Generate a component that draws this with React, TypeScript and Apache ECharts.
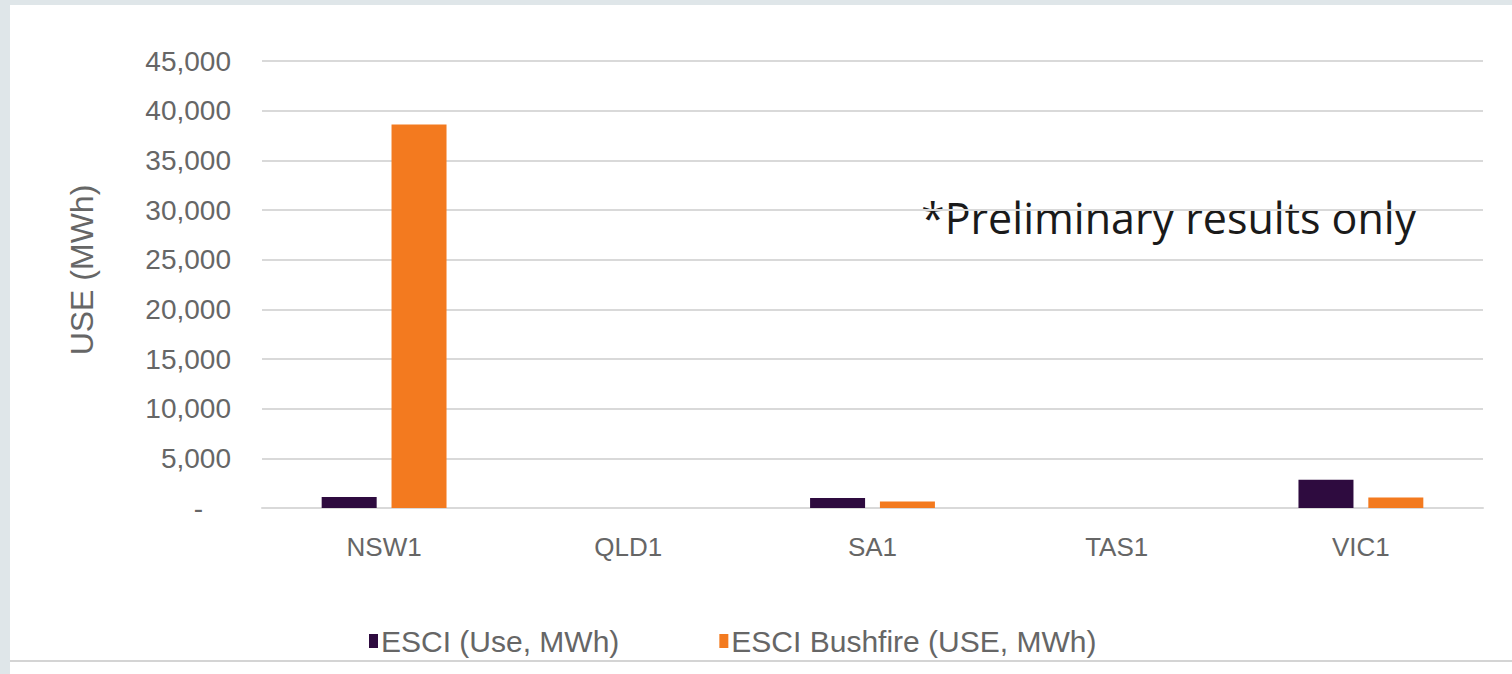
import React, { useEffect, useRef } from "react";
import * as echarts from "echarts";

const categories = ["NSW1", "QLD1", "SA1", "TAS1", "VIC1"];
const esciUse = [1100, 0, 1000, 0, 2850];
const esciBushfire = [38600, 0, 650, 0, 1050];
const seriesNames = ["ESCI (Use, MWh)", "ESCI Bushfire (USE, MWh)"];
const yAxisTitle = "USE (MWh)";
const note = "*Preliminary results only";

export default function App() {
  const ref = useRef<HTMLDivElement>(null);
  useEffect(() => {
    document.body.style.margin = "0";
    const chart = echarts.init(ref.current!, null, { renderer: "svg" });
    const labelFont = "'Liberation Sans', Arial, sans-serif";
    const grey = "#666666";
    chart.setOption({
      animation: false,
      backgroundColor: "#ffffff",
      graphic: [
        { type: "rect", left: 0, top: 0, shape: { width: 1512, height: 5 }, style: { fill: "#dfe6e9" }, silent: true },
        { type: "rect", left: 0, top: 0, shape: { width: 10, height: 674 }, style: { fill: "#dfe6e9" }, silent: true },
        { type: "rect", left: 10, top: 660, shape: { width: 1502, height: 2 }, style: { fill: "#d4d4d4" }, silent: true },
        {
          type: "text",
          left: 921,
          top: 196,
          style: { text: note, fill: "#1a1a1a", font: "43px 'Open Sans', 'Noto Sans', sans-serif" },
        },
        {
          type: "text",
          x: 82,
          y: 270,
          rotation: Math.PI / 2,
          style: {
            text: yAxisTitle,
            fill: grey,
            font: "32px 'Liberation Sans', Arial, sans-serif",
            align: "center",
            verticalAlign: "middle",
          },
        },
      ],
      grid: { left: 262, right: 29, top: 61, bottom: 166 },
      legend: {
        data: seriesNames,
        left: 364,
        top: 621,
        icon: "rect",
        itemWidth: 9,
        itemHeight: 14,
        itemGap: 100,
        textStyle: { fontFamily: labelFont, fontSize: 30, color: grey, padding: [0, 0, 0, -2] },
      },
      xAxis: {
        type: "category",
        data: categories,
        axisTick: { show: false },
        axisLine: { lineStyle: { color: "#d9d9d9", width: 2 } },
        axisLabel: { fontFamily: labelFont, fontSize: 26, color: grey, margin: 26 },
      },
      yAxis: {
        type: "value",
        min: 0,
        max: 45000,
        interval: 5000,
        axisLine: { show: false },
        axisTick: { show: false },
        splitLine: { lineStyle: { color: "#d9d9d9", width: 2 } },
        axisLabel: {
          fontFamily: labelFont,
          fontSize: 28,
          color: grey,
          margin: 31,
          formatter: (v: number) => (v === 0 ? "{z|-}" : v.toLocaleString("en-US")),
          rich: { z: { fontFamily: labelFont, fontSize: 28, color: grey, padding: [0, 28, 0, 0] } },
        },
      },
      series: [
        {
          name: seriesNames[0],
          type: "bar",
          data: esciUse,
          barWidth: 55,
          barGap: "27%",
          itemStyle: { color: "#2e0b3f" },
        },
        {
          name: seriesNames[1],
          type: "bar",
          data: esciBushfire,
          barWidth: 55,
          itemStyle: { color: "#f37a1f" },
        },
      ],
    });
    return () => chart.dispose();
  }, []);
  return <div ref={ref} style={{ position: "fixed", left: 0, top: 0, width: 1512, height: 674 }} />;
}
